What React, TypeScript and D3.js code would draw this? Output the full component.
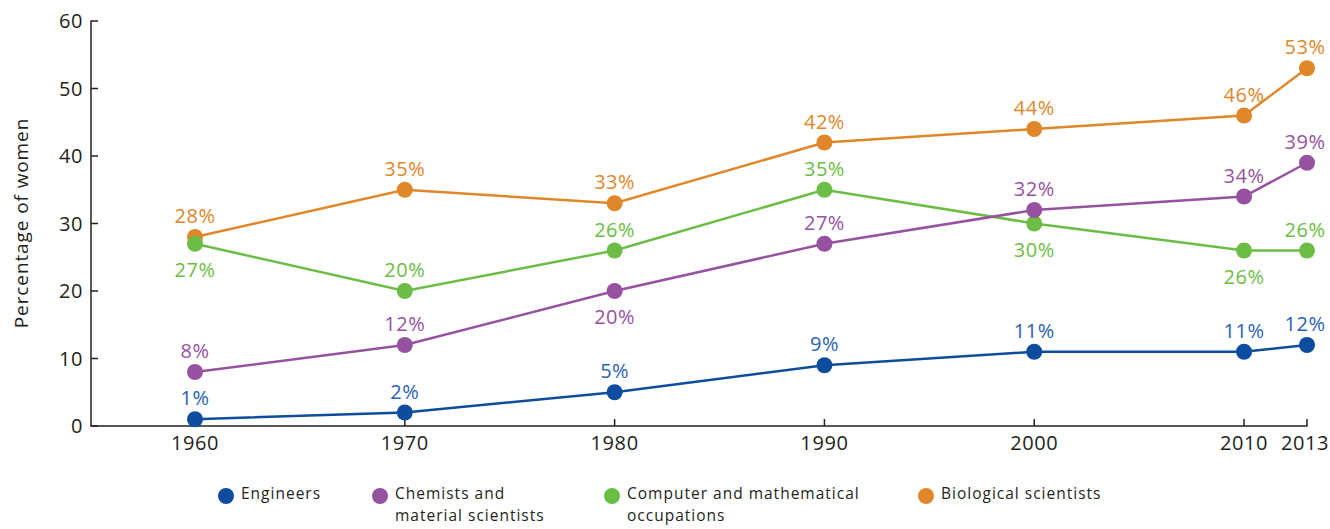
import React from "react";
import * as d3 from "d3";

const years = [1960, 1970, 1980, 1990, 2000, 2010, 2013];
const engineers = [1, 2, 5, 9, 11, 11, 12];
const chemists = [8, 12, 20, 27, 32, 34, 39];
const computer = [27, 20, 26, 35, 30, 26, 26];
const biological = [28, 35, 33, 42, 44, 46, 53];
// label placement: 1 = above, -1 = below
const engineersPos = [1, 1, 1, 1, 1, 1, 1];
const chemistsPos = [1, 1, -1, 1, 1, 1, 1];
const computerPos = [-1, 1, 1, 1, -1, -1, 1];
const biologicalPos = [1, 1, 1, 1, 1, 1, 1];
const yTicks = [0, 10, 20, 30, 40, 50, 60];

const series = [
  { name: "Engineers", lines: ["Engineers"], values: engineers, pos: engineersPos, color: "#0e4c9d", text: "#2a62b2" },
  { name: "Chemists", lines: ["Chemists and", "material scientists"], values: chemists, pos: chemistsPos, color: "#9652a0", text: "#9652a0" },
  { name: "Computer", lines: ["Computer and mathematical", "occupations"], values: computer, pos: computerPos, color: "#6bbd45", text: "#6bbd45" },
  { name: "Biological", lines: ["Biological scientists"], values: biological, pos: biologicalPos, color: "#e0872a", text: "#e0872a" },
];

const legendX = [226, 380, 612, 926];
const FONT = "'Open Sans', 'Noto Sans', sans-serif";

export default function App() {
  const W = 1330, H = 529;
  const x = d3.scaleLinear().domain([1960, 2013]).range([195, 1307]);
  const y = d3.scaleLinear().domain([0, 60]).range([426, 21]);
  const line = d3.line<number>().x((_, i) => x(years[i])).y((d) => y(d));
  const axisColor = "#231f20";
  const drawOrder = [3, 2, 1, 0];
  return (
    <svg width={W} height={H} style={{ position: "absolute", left: 0, top: 0 }} fontFamily={FONT}>
      <line x1={91} x2={91} y1={20.5} y2={426} stroke={axisColor} strokeWidth={1.5} />
      <line x1={90.5} x2={1307.5} y1={426} y2={426} stroke={axisColor} strokeWidth={1.5} />
      {yTicks.map((t) => (
        <g key={t}>
          <line x1={91} x2={98} y1={y(t)} y2={y(t)} stroke={axisColor} strokeWidth={1.5} />
          <text x={83} y={y(t)} dy="0.35em" textAnchor="end" fontSize={20} letterSpacing={0.6} fill={axisColor}>{t}</text>
        </g>
      ))}
      {years.map((yr) => (
        <g key={yr}>
          <line x1={x(yr)} x2={x(yr)} y1={426} y2={419} stroke={axisColor} strokeWidth={1.5} />
          <text x={yr === 2013 ? x(yr) - 2 : x(yr)} y={443} dy="0.35em" textAnchor="middle" fontSize={20} letterSpacing={0.6} fill={axisColor}>{yr}</text>
        </g>
      ))}
      <text transform={`translate(21,223) rotate(-90)`} textAnchor="middle" dy="0.35em" fontSize={19} letterSpacing={0.9} fill={axisColor}>Percentage of women</text>
      {drawOrder.map((si) => {
        const s = series[si];
        return (
          <g key={s.name}>
            <path d={line(s.values) || ""} fill="none" stroke={s.color} strokeWidth={2.5} />
            {s.values.map((v, i) => (
              <circle key={i} cx={x(years[i])} cy={y(v)} r={8} fill={s.color} />
            ))}
          </g>
        );
      })}
      {series.map((s) => (
        <g key={s.name + "lbl"}>
          {s.values.map((v, i) => (
            <text key={i} x={years[i] === 2013 ? x(years[i]) - 2 : x(years[i])} y={y(v) + (s.pos[i] > 0 ? -21 : 26)} dy="0.35em" textAnchor="middle" fontSize={20} letterSpacing={0.5} fill={s.text}>{v}%</text>
          ))}
        </g>
      ))}
      {series.map((s, i) => (
        <g key={s.name + "leg"}>
          <circle cx={legendX[i]} cy={496} r={8} fill={s.color} />
          {s.lines.map((ln, j) => (
            <text key={j} x={legendX[i] + 15} y={j === 0 ? 494 : 516} dy="0.35em" fontSize={15.5} letterSpacing={1} fill={axisColor}>{ln}</text>
          ))}
        </g>
      ))}
    </svg>
  );
}
